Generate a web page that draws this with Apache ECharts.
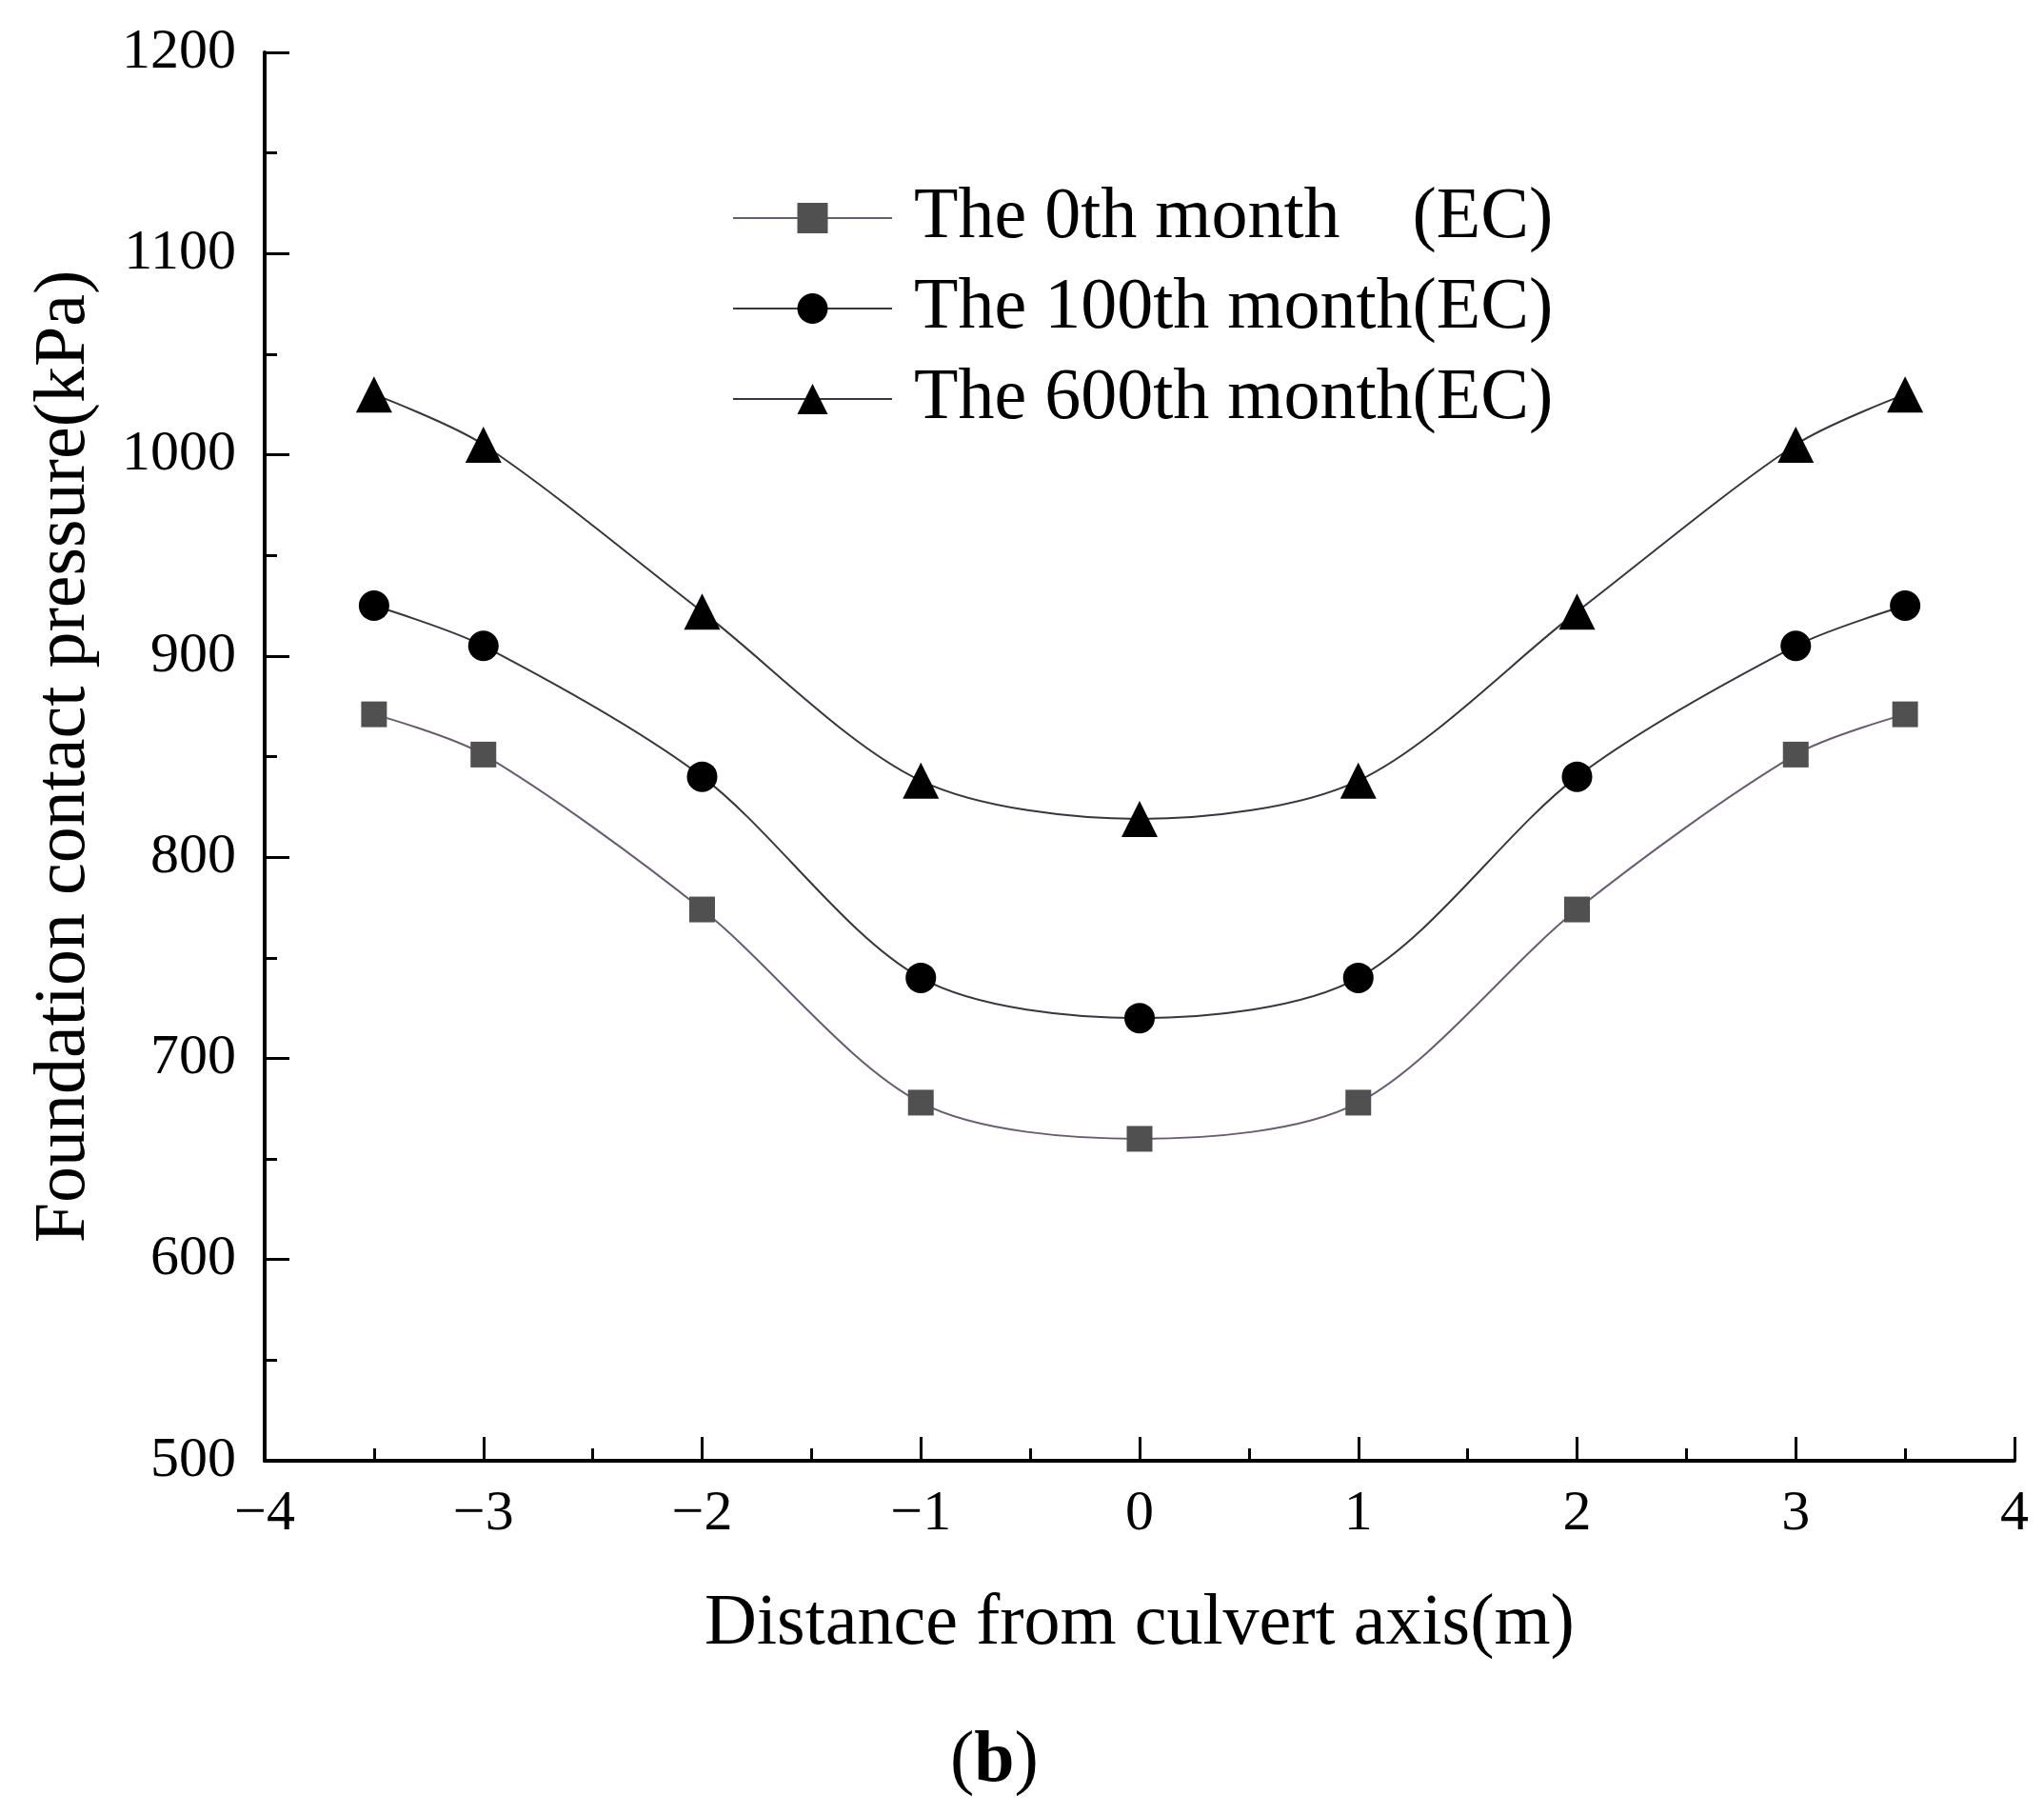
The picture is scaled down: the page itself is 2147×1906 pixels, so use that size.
<!DOCTYPE html>
<html>
<head>
<meta charset="utf-8">
<script src="https://cdn.jsdelivr.net/npm/echarts@6/dist/echarts.min.js"></script>
<style>
    html, body { margin: 0; padding: 0; background: #fff; }
    #cn { width: 2147px; height: 1906px; }
</style>
</head>
<body>
<div id="cn"></div>
<script>
'use strict';

// distance from culvert axis (m)
const arrDist = [-3.5, -3, -2, -1, 0, 1, 2, 3, 3.5];
// foundation contact pressure (kPa)
const arrMonth0 = [871, 851, 774, 678, 660, 678, 774, 851, 871];
const arrMonth100 = [925, 905, 840, 740, 720, 740, 840, 905, 925];
const arrMonth600 = [1030, 1005, 922, 838, 819, 838, 922, 1005, 1030];

const arrNames = ['The 0th month    (EC)', 'The 100th month(EC)', 'The 600th month(EC)'];

const strFont = "'Liberation Serif', 'Times New Roman', serif";

const toPairs = (arrY) => arrDist.map((x, i) => [x, arrY[i]]);

const makeSeries = (name, data, symbol, symbolSize, markColor, lineColor) => {
    return {
        name: name,
        type: 'line',
        data: toPairs(data),
        smooth: 0.3,
        symbol: symbol,
        symbolSize: symbolSize,
        showSymbol: true,
        lineStyle: {
            width: 2,
            color: lineColor
        },
        itemStyle: {
            color: markColor //marker color
        },
        z: 3
    };
}

const optionChart = {
    backgroundColor: '#fff',
    animation: false,
    textStyle: {
        fontFamily: strFont
    },
    grid: {
        left: 278,
        right: 31,
        top: 55,
        bottom: 372
    },
    legend: {
        orient: 'vertical',
        left: 764,
        top: 186,
        itemWidth: 167,
        itemHeight: 40,
        itemGap: 19,
        textStyle: {
            fontFamily: strFont,
            fontSize: 76,
            color: '#000',
            padding: [0, 0, 0, 18]
        },
        data: arrNames
    },
    xAxis: {
        type: 'value',
        min: -4,
        max: 4,
        interval: 1,
        name: 'Distance from culvert axis(m)',
        nameLocation: 'middle',
        nameGap: 134,
        nameTextStyle: {
            fontFamily: strFont,
            fontSize: 76,
            color: '#000'
        },
        axisLine: {
            onZero: false,
            lineStyle: { color: '#000', width: 4 }
        },
        axisTick: {
            inside: true,
            length: 25,
            lineStyle: { color: '#000', width: 3 }
        },
        minorTick: {
            show: true,
            splitNumber: 2,
            length: 13,
            lineStyle: { color: '#000', width: 3 }
        },
        splitLine: { show: false },
        axisLabel: {
            fontFamily: strFont,
            fontSize: 60,
            color: '#000',
            margin: 26,
            formatter: (v) => String(v).replace('-', '\u2212')
        }
    },
    yAxis: {
        type: 'value',
        min: 500,
        max: 1200,
        interval: 100,
        name: 'Foundation contact pressure(kPa)',
        nameLocation: 'middle',
        nameGap: 172,
        nameTextStyle: {
            fontFamily: strFont,
            fontSize: 76,
            color: '#000'
        },
        axisLine: {
            show: true,
            onZero: false,
            lineStyle: { color: '#000', width: 4 }
        },
        axisTick: {
            inside: true,
            length: 26,
            lineStyle: { color: '#000', width: 3 }
        },
        minorTick: {
            show: true,
            splitNumber: 2,
            length: 13,
            lineStyle: { color: '#000', width: 3 }
        },
        splitLine: { show: false },
        axisLabel: {
            fontFamily: strFont,
            fontSize: 60,
            color: '#000',
            margin: 30,
            formatter: (v) => String(v)
        }
    },
    graphic: [{
        type: 'text',
        left: 998,
        top: 1812,
        style: {
            text: '({b|b})',
            fontFamily: strFont,
            fontSize: 76,
            fill: '#000',
            rich: {
                b: {
                    fontFamily: strFont,
                    fontSize: 76,
                    fontWeight: 'bold',
                    fill: '#000'
                }
            }
        }
    }],
    series: [
        makeSeries(arrNames[0], arrMonth0, 'rect', 27, '#505050', '#6a5a72'),
        makeSeries(arrNames[1], arrMonth100, 'circle', 32, '#000', '#3a3440'),
        makeSeries(arrNames[2], arrMonth600, 'triangle', 38, '#000', '#3a3440')
    ]
}

//main
{
    const echartsPanda = echarts.init(document.getElementById('cn'));
    echartsPanda.setOption(optionChart);
}
</script>
</body>
</html>
